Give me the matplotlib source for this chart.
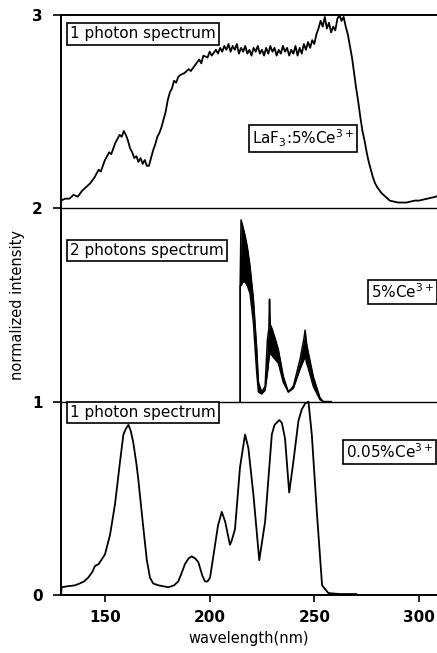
import matplotlib
matplotlib.use("Agg")
import matplotlib.pyplot as plt

# ---------------- data ----------------
# top panel: LaF3:5%Ce3+, 1 photon spectrum (offset +2)
top_wl = [129, 131, 133, 135, 137, 139, 141, 143, 145, 147, 148, 150, 152, 153, 155, 157, 158, 159, 160,
          161, 162, 163, 164, 165, 166, 167, 168, 169, 170, 171, 172, 173, 174, 175, 176, 177, 178, 179,
          180, 181, 182, 183, 184, 185, 186, 188, 190, 191, 193, 195, 196, 197, 199, 200, 201, 203, 204,
          205, 206, 207, 208, 209, 210, 211, 212, 213, 214, 215, 216, 217, 218, 219, 220, 221, 222, 223,
          224, 225, 226, 227, 228, 229, 230, 231, 232, 233, 234, 235, 236, 237, 238, 239, 240, 241, 242,
          243, 244, 245, 246, 247, 248, 249, 250, 251, 252, 253, 254, 255, 256, 257, 258, 259, 260, 261,
          262, 263, 264, 265, 266, 267, 268, 269, 270, 271, 272, 273, 274, 275, 276, 277, 278, 279, 280,
          282, 284, 286, 288, 290, 292, 294, 296, 298, 300, 302, 304, 306, 308, 309]
top_int = [2.04, 2.05, 2.05, 2.07, 2.06, 2.09, 2.11, 2.13, 2.16, 2.20, 2.19, 2.25, 2.29, 2.28, 2.34, 2.38,
           2.37, 2.40, 2.38, 2.35, 2.31, 2.29, 2.26, 2.27, 2.24, 2.26, 2.23, 2.25, 2.22, 2.22, 2.26, 2.30,
           2.33, 2.37, 2.39, 2.42, 2.46, 2.50, 2.56, 2.60, 2.62, 2.66, 2.65, 2.68, 2.69, 2.70, 2.72, 2.71,
           2.74, 2.77, 2.75, 2.79, 2.78, 2.81, 2.79, 2.82, 2.80, 2.83, 2.81, 2.84, 2.82, 2.85, 2.81, 2.84,
           2.82, 2.85, 2.80, 2.83, 2.81, 2.84, 2.80, 2.82, 2.79, 2.83, 2.81, 2.84, 2.80, 2.82, 2.79, 2.83,
           2.80, 2.84, 2.81, 2.83, 2.79, 2.82, 2.80, 2.84, 2.81, 2.83, 2.79, 2.82, 2.80, 2.84, 2.79, 2.83,
           2.80, 2.85, 2.82, 2.86, 2.83, 2.87, 2.85, 2.90, 2.93, 2.97, 2.94, 2.99, 2.93, 2.96, 2.91, 2.94,
           2.92, 2.98, 3.00, 2.97, 2.99, 2.94, 2.90, 2.84, 2.78, 2.70, 2.62, 2.55, 2.47, 2.40, 2.35, 2.29,
           2.24, 2.20, 2.16, 2.13, 2.11, 2.08, 2.06, 2.04, 2.035, 2.03, 2.03, 2.03, 2.035, 2.04, 2.04,
           2.045, 2.05, 2.055, 2.06, 2.065]

# middle panel: 5%Ce3+, 2 photons spectrum (offset +1), upper / lower envelope of the dense trace
mid_wl = [214.6, 214.6, 215.0, 216.0, 216.9, 218.0, 219.3, 220.9, 222.5, 223.3, 224.9, 226.5, 227.6,
          228.3, 228.6, 228.9, 229.7, 231.2, 232.8, 235.2, 237.6, 240.0, 243.2, 245.1, 245.6, 246.3,
          247.2, 249.5, 252.7, 254.3, 258.0]
mid_upper = [1.00, 1.62, 1.94, 1.90, 1.86, 1.80, 1.70, 1.53, 1.27, 1.10, 1.05, 1.08, 1.32, 1.38, 1.53,
             1.40, 1.38, 1.33, 1.27, 1.13, 1.05, 1.08, 1.22, 1.33, 1.37, 1.30, 1.25, 1.13, 1.02, 1.00, 1.00]
mid_lower = [1.00, 1.60, 1.60, 1.62, 1.62, 1.60, 1.56, 1.41, 1.15, 1.05, 1.04, 1.06, 1.15, 1.22, 1.25,
             1.25, 1.24, 1.22, 1.20, 1.10, 1.05, 1.07, 1.17, 1.22, 1.24, 1.20, 1.17, 1.08, 1.01, 1.00, 1.00]

# bottom panel: 0.05%Ce3+, 1 photon spectrum
bot_wl = [129.0, 129.3, 132, 135.7, 138, 140, 142, 144, 145.2, 147, 150, 152.4, 154.8, 157.2, 158.8, 160,
          161.2, 162.3, 163.5, 165, 165.9, 168.3, 170, 171.5, 173, 175.5, 178, 180.3, 183, 185, 186.5,
          188.2, 190, 191.4, 193, 194.6, 196.5, 197.8, 199, 200.2, 202.6, 204, 205.8, 207.4, 209.7, 210.5,
          212.1, 214.5, 216.9, 218.5, 220.9, 223.7, 226.5, 229.7, 231, 233.3, 234.5, 236, 238, 240, 242.4,
          244, 245.6, 247.2, 248.8, 251.2, 253.7, 256.7, 262, 270]
bot_int = [0.0, 0.04, 0.045, 0.05, 0.06, 0.07, 0.09, 0.12, 0.15, 0.16, 0.21, 0.31, 0.47, 0.69, 0.83, 0.86,
           0.88, 0.85, 0.79, 0.68, 0.60, 0.35, 0.18, 0.09, 0.06, 0.05, 0.045, 0.04, 0.05, 0.07, 0.11, 0.16,
           0.19, 0.20, 0.19, 0.17, 0.10, 0.07, 0.07, 0.09, 0.26, 0.36, 0.43, 0.38, 0.26, 0.28, 0.34, 0.66,
           0.83, 0.76, 0.52, 0.18, 0.38, 0.83, 0.88, 0.905, 0.89, 0.81, 0.53, 0.69, 0.90, 0.96, 0.99, 1.00,
           0.83, 0.43, 0.05, 0.01, 0.005, 0.005]

xticks = [150, 200, 250, 300]
yticks = [0, 1, 2, 3]
box_labels = ["1 photon spectrum", "LaF$_3$:5%Ce$^{3+}$", "2 photons spectrum", "5%Ce$^{3+}$",
              "1 photon spectrum", "0.05%Ce$^{3+}$"]
box_pos = [(133.3, 2.902), (220.3, 2.362), (133.3, 1.782), (277.1, 1.567), (133.5, 0.942), (265.2, 0.740)]

# ---------------- plot ----------------
plt.rcParams['font.family'] = ['DejaVu Sans']
plt.rcParams['mathtext.fontset'] = 'dejavusans'

fig = plt.figure(figsize=(4.37, 6.53), dpi=100)
ax = fig.add_axes([61 / 437, 58 / 653, 1 - 61 / 437, 580 / 653])

lw = 1.3
ax.plot(top_wl, top_int, color='black', lw=lw)
ax.fill_between(mid_wl, mid_lower, mid_upper, color='black', lw=0)
ax.plot(mid_wl, mid_upper, color='black', lw=1.1)
ax.plot(mid_wl, mid_lower, color='black', lw=1.1)
ax.plot(bot_wl, bot_int, color='black', lw=lw)

for yl in (1, 2):
    ax.axhline(yl, color='black', lw=1.0)

ax.set_xlim(129, 308.6)
ax.set_ylim(0, 3)
ax.set_xticks(xticks)
ax.set_yticks(yticks)
ax.tick_params(axis='both', direction='out', width=1.2, labelsize=11)
ax.tick_params(axis='x', length=5, pad=6)
ax.tick_params(axis='y', length=6, pad=7)
for lab in ax.get_xticklabels() + ax.get_yticklabels():
    lab.set_fontweight('bold')
ax.spines['right'].set_visible(False)
for s in ('left', 'bottom', 'top'):
    ax.spines[s].set_linewidth(1.4)

ax.set_xlabel('wavelength(nm)', fontsize=10.5, labelpad=4)
ax.set_ylabel('normalized intensity', fontsize=10.5, labelpad=5)

for txt, (x, y) in zip(box_labels, box_pos):
    ax.text(x, y, txt, fontsize=11, ha='left', va='center',
            bbox=dict(boxstyle='square,pad=0.2', fc='white', ec='black', lw=1.2))

fig.savefig('out.png', dpi=100)
